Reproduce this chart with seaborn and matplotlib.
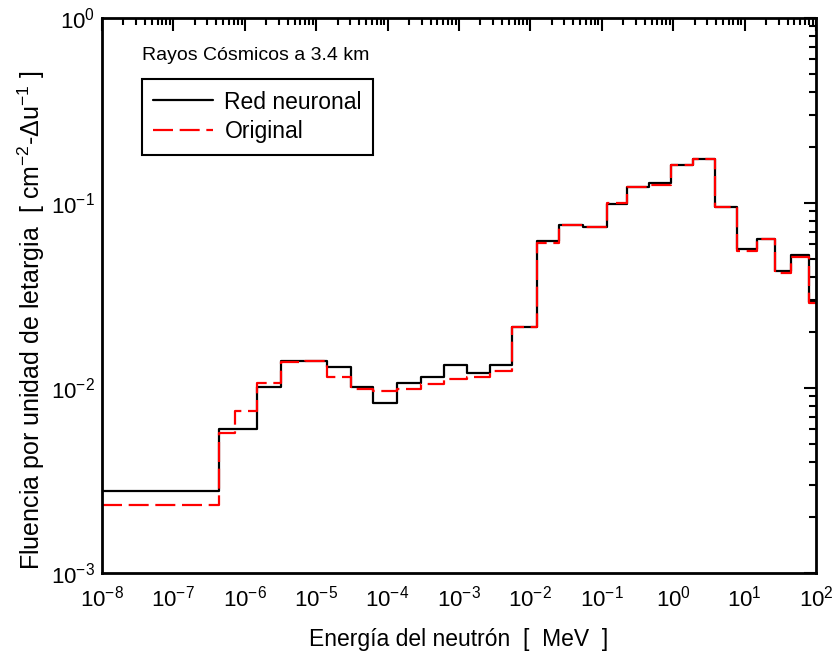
import numpy as np
import pandas as pd
import matplotlib
matplotlib.use("Agg")
import matplotlib.pyplot as plt
import seaborn as sns
from matplotlib.ticker import LogLocator, NullFormatter

# bin edges (log10 MeV)
edges_log = [-8.0, -6.361, -6.137, -5.829, -5.493, -5.157, -4.849, -4.513, -4.205,
             -3.868, -3.532, -3.210, -2.888, -2.566, -2.258, -1.912, -1.604, -1.269,
             -0.932, -0.653, -0.345, -0.036, 0.272, 0.585, 0.888, 1.168, 1.429,
             1.645, 1.905, 2.0]

red_neuronal = [2.79e-3, 6.0e-3, 6.0e-3, 1.016e-2, 1.405e-2, 1.405e-2, 1.30e-2, 1.009e-2,
                8.33e-3, 1.069e-2, 1.15e-2, 1.336e-2, 1.205e-2, 1.336e-2, 2.14e-2,
                6.25e-2, 7.57e-2, 7.45e-2, 9.84e-2, 0.1225, 0.1288, 0.161, 0.1735,
                9.55e-2, 5.66e-2, 6.41e-2, 4.29e-2, 5.24e-2, 2.93e-2]

original = [2.33e-3, 5.73e-3, 7.51e-3, 1.064e-2, 1.377e-2, 1.405e-2, 1.15e-2, 9.88e-3,
            9.64e-3, 9.88e-3, 1.047e-2, 1.123e-2, 1.15e-2, 1.24e-2, 2.14e-2,
            6.10e-2, 7.57e-2, 7.45e-2, 9.95e-2, 0.1225, 0.1256, 0.161, 0.1735,
            9.55e-2, 5.52e-2, 6.41e-2, 4.20e-2, 5.13e-2, 2.89e-2]

x_ticks_log = list(range(-8, 3))
y_ticks_log = [-3, -2, -1, 0]

edges = [10 ** e for e in edges_log]

sns.set_style("white")
plt.rcParams['font.family'] = ['Liberation Sans', 'DejaVu Sans']
plt.rcParams['mathtext.default'] = 'regular'
plt.rcParams['axes.unicode_minus'] = False
plt.rcParams['text.color'] = 'black'
plt.rcParams['axes.labelcolor'] = 'black'
plt.rcParams['xtick.color'] = 'black'
plt.rcParams['ytick.color'] = 'black'

fig = plt.figure(figsize=(8.36, 6.55), dpi=100)
ax = fig.add_axes([0.122, 0.1252, 0.854, 0.8473])

df_black = pd.DataFrame({"E": edges, "F": red_neuronal + [red_neuronal[-1]]})
df_red = pd.DataFrame({"E": edges, "F": original + [original[-1]]})

sns.lineplot(data=df_black, x="E", y="F", ax=ax, color="black", lw=1.6,
             drawstyle="steps-post", sort=False, estimator=None, label="Red neuronal")
sns.lineplot(data=df_red, x="E", y="F", ax=ax, color="#ff0000", lw=1.6,
             drawstyle="steps-post", sort=False, estimator=None, label="Original",
             dashes=False)
ax.lines[-1].set_dashes((9, 3))

ax.set_xscale("log")
ax.set_yscale("log")
ax.set_xlim(1e-8, 1e2)
ax.set_ylim(1e-3, 1e0)

ax.set_xticks([10.0 ** t for t in x_ticks_log])
ax.set_yticks([10.0 ** t for t in y_ticks_log])
ax.xaxis.set_minor_locator(LogLocator(base=10, subs=np.arange(2, 10), numticks=100))
ax.yaxis.set_minor_locator(LogLocator(base=10, subs=np.arange(2, 10), numticks=100))
ax.xaxis.set_minor_formatter(NullFormatter())
ax.yaxis.set_minor_formatter(NullFormatter())

ax.tick_params(which="both", direction="in", top=True, right=True, width=1.5,
               colors="black", labelsize=16)
ax.tick_params(which="major", length=9)
ax.tick_params(which="minor", length=5)
ax.tick_params(axis="x", which="major", pad=9)
ax.tick_params(axis="y", which="major", pad=5)

for s in ax.spines.values():
    s.set_linewidth(2)
    s.set_color("black")

ax.set_xlabel("Energía del neutrón  [  MeV  ]", fontsize=16.5, labelpad=12)
ax.set_ylabel("Fluencia por unidad de letargia  [ cm$^{-2}$-Δu$^{-1}$ ]", fontsize=18)
ax.yaxis.set_label_coords(-0.077, 0.456)

ax.text(0.056, 0.933, "Rayos Cósmicos a 3.4 km", transform=ax.transAxes,
        fontsize=14, va="center", ha="left")

leg = ax.legend(loc="upper left", bbox_to_anchor=(0.056, 0.89), borderaxespad=0,
                fancybox=False, frameon=True, edgecolor="black", framealpha=1,
                fontsize=16.5, handlelength=2.6, handletextpad=0.5, labelspacing=0.3,
                borderpad=0.5)
leg.get_frame().set_linewidth(1.5)
leg_lines = leg.get_lines()
leg_lines[1].set_dashes((9, 3))

fig.savefig("out.png", dpi=100)
